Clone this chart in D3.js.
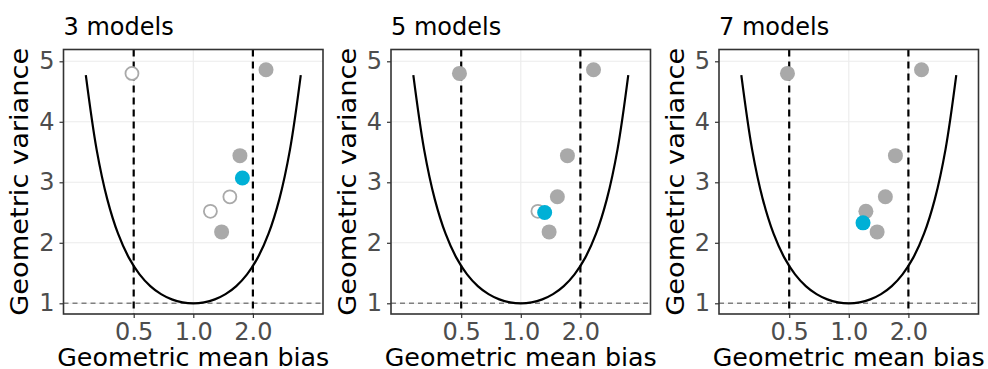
<!DOCTYPE html>
<html>
<head>
<meta charset="utf-8">
<script src="https://cdn.jsdelivr.net/npm/d3@7"></script>
<style>
  body { margin: 0; background: #fff; }
  text { font-family: "DejaVu Sans", sans-serif; }
</style>
</head>
<body>
<script>
// Panels: number of models in the ensemble
var panelTitles = ["3 models", "5 models", "7 models"];

// Individual models (geometric mean bias, geometric variance)
var modelMG = [0.49, 2.33, 1.72, 1.53, 1.22, 1.39];
var modelVG = [4.80, 4.86, 3.44, 2.76, 2.52, 2.18];

// which models are part of the ensemble in each panel
var included = [
  [false, true, true, false, false, true],
  [true, true, true, true, false, true],
  [true, true, true, true, true, true]
];

// ensemble result per panel
var ensembleMG = [1.77, 1.32, 1.18];
var ensembleVG = [3.07, 2.50, 2.33];

// minimum-variance curve (VG = exp(ln(MG)^2)), values typed in
var curveMG = [0.2865, 0.3247, 0.3679, 0.4169, 0.4724, 0.5353, 0.6065, 0.6873, 0.7788, 0.8825, 1,
               1.1331, 1.2840, 1.4550, 1.6487, 1.8682, 2.1170, 2.3989, 2.7183, 3.0802, 3.4903];
var curveVG = [4.771, 3.545, 2.718, 2.150, 1.755, 1.478, 1.284, 1.151, 1.0645, 1.0157, 1,
               1.0157, 1.0645, 1.151, 1.284, 1.478, 1.755, 2.150, 2.718, 3.545, 4.771];

var xTicks = [0.5, 1.0, 2.0];
var yTicks = [1, 2, 3, 4, 5];
var factorLines = [0.5, 2.0];

var svgWidth = 988, svgHeight = 369;
var panelLeft = [63.5, 391, 719];
var panelWidth = 259.5;
var plotTop = 49.5, plotBottom = 314;
var h = plotBottom - plotTop;

var svg = d3.select("body").append("svg")
  .attr("width", svgWidth)
  .attr("height", svgHeight);

var x = d3.scaleLog().domain([0.221, 4.52]).range([0, panelWidth]);
var y = d3.scaleLinear().domain([0.823, 5.195]).range([h, 0]);

var blue = "#00b0d6", grey = "#a9a9a9";

panelTitles.forEach(function(title, p) {
  var g = svg.append("g").attr("transform", `translate(${panelLeft[p]}, ${plotTop})`);

  // grid
  g.selectAll(".gy").data(yTicks).enter().append("line")
    .attr("x1", 0).attr("x2", panelWidth)
    .attr("y1", d => y(d)).attr("y2", d => y(d))
    .attr("stroke", "#ebebeb").attr("stroke-width", 1.1);
  g.selectAll(".gx").data(xTicks).enter().append("line")
    .attr("y1", 0).attr("y2", h)
    .attr("x1", d => x(d)).attr("x2", d => x(d))
    .attr("stroke", "#ebebeb").attr("stroke-width", 1.1);

  // reference line at VG = 1
  g.append("line")
    .attr("x1", 0).attr("x2", panelWidth)
    .attr("y1", y(1)).attr("y2", y(1))
    .attr("stroke", "#808080").attr("stroke-width", 1.5)
    .attr("stroke-dasharray", "5,4");

  // factor of two lines
  g.selectAll(".fl").data(factorLines).enter().append("line")
    .attr("y1", 0).attr("y2", h)
    .attr("x1", d => x(d)).attr("x2", d => x(d))
    .attr("stroke", "#000").attr("stroke-width", 2.2)
    .attr("stroke-dasharray", "7,5");

  // curve
  var line = d3.line()
    .x((d, i) => x(curveMG[i]))
    .y(d => y(d))
    .curve(d3.curveCatmullRom);
  g.append("path").datum(curveVG)
    .attr("d", line)
    .attr("fill", "none")
    .attr("stroke", "#000")
    .attr("stroke-width", 2.2);

  // models: open ones first, then filled
  var idx = d3.range(modelMG.length);
  g.selectAll(".open").data(idx.filter(i => !included[p][i])).enter().append("circle")
    .attr("cx", i => x(modelMG[i]))
    .attr("cy", i => y(modelVG[i]))
    .attr("r", 6.5)
    .attr("fill", "#fff")
    .attr("stroke", grey)
    .attr("stroke-width", 1.8);
  g.selectAll(".filled").data(idx.filter(i => included[p][i])).enter().append("circle")
    .attr("cx", i => x(modelMG[i]))
    .attr("cy", i => y(modelVG[i]))
    .attr("r", 7.5)
    .attr("fill", grey);

  // ensemble
  g.append("circle")
    .attr("cx", x(ensembleMG[p]))
    .attr("cy", y(ensembleVG[p]))
    .attr("r", 7.5)
    .attr("fill", blue);

  // axes
  var yAxis = g.append("g").call(d3.axisLeft(y).tickValues(yTicks).tickSize(4).tickFormat(d3.format("d")));
  var xAxis = g.append("g").attr("transform", `translate(0, ${h})`)
    .call(d3.axisBottom(x).tickValues(xTicks).tickSize(4).tickFormat(d3.format(".1f")));
  [xAxis, yAxis].forEach(function(a) {
    a.select(".domain").remove();
    a.selectAll(".tick line").attr("stroke", "#333").attr("stroke-width", 1.2);
    a.selectAll(".tick text").attr("fill", "#4d4d4d").style("font-size", "24px")
      .style("font-family", "DejaVu Sans");
  });
  yAxis.selectAll(".tick text").attr("x", -9);
  xAxis.selectAll(".tick text").attr("y", 9);

  // panel border
  g.append("rect")
    .attr("width", panelWidth).attr("height", h)
    .attr("fill", "none")
    .attr("stroke", "#333").attr("stroke-width", 1.6);

  // titles
  svg.append("text")
    .attr("x", panelLeft[p])
    .attr("y", 35)
    .style("font-size", "24px")
    .attr("fill", "#000")
    .text(title);

  svg.append("text")
    .attr("x", panelLeft[p] + panelWidth / 2)
    .attr("y", 366)
    .attr("text-anchor", "middle")
    .style("font-size", "24px")
    .attr("textLength", 272)
    .attr("lengthAdjust", "spacingAndGlyphs")
    .text("Geometric mean bias");

  svg.append("text")
    .attr("transform", `translate(${panelLeft[p] - 35.5}, ${(plotTop + plotBottom) / 2}) rotate(-90)`)
    .attr("text-anchor", "middle")
    .style("font-size", "24px")
    .attr("textLength", 268)
    .attr("lengthAdjust", "spacingAndGlyphs")
    .text("Geometric variance");
});
</script>
</body>
</html>
